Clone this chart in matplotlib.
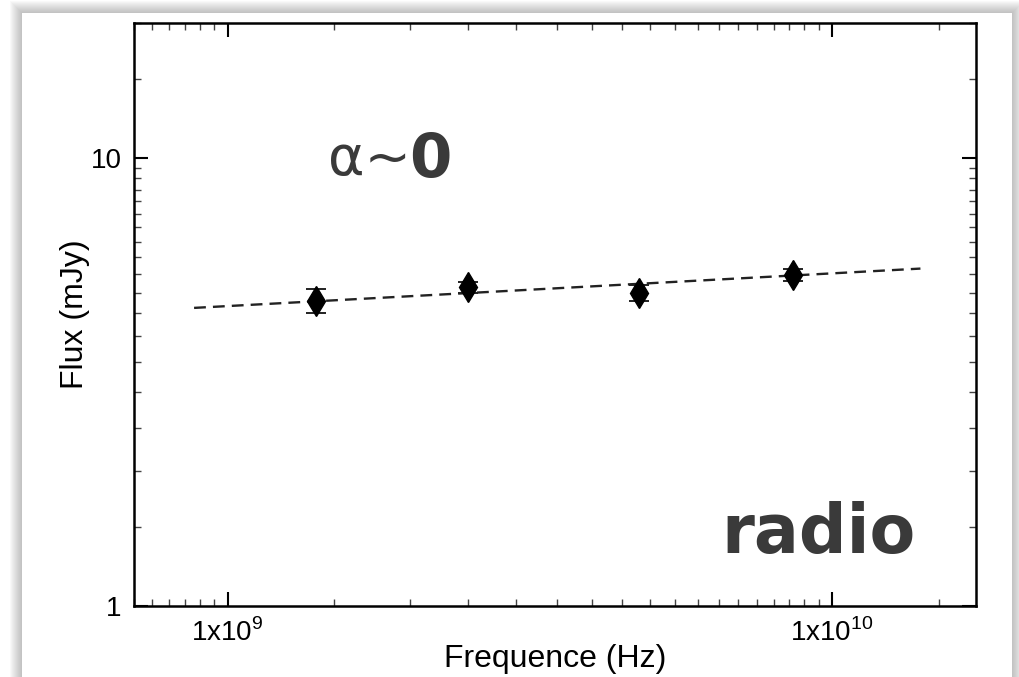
import matplotlib
matplotlib.use("Agg")
import matplotlib.pyplot as plt
import matplotlib.ticker as mticker
from matplotlib.patches import Rectangle
import numpy as np

plt.rcParams['font.family'] = ['Liberation Sans', 'DejaVu Sans']
plt.rcParams['mathtext.fontset'] = 'custom'
plt.rcParams['mathtext.rm'] = 'Liberation Sans'

# radio measurements
freq = [1.4e9, 2.5e9, 4.8e9, 8.6e9]          # Hz
flux = [4.80, 5.14, 5.00, 5.48]               # mJy
flux_err = [0.30, 0.15, 0.20, 0.17]

# power-law fit, F = amp * (nu / 1 GHz)^alpha
fit_amp = 4.67
fit_alpha = 0.073
fit_range = [8.8e8, 1.4e10]

x_ticks = [1e9, 1e10]
x_ticklabels = [r'1x10$^{9}$', r'1x10$^{10}$']
y_ticks = [1, 10]
y_ticklabels = ['1', '10']

fig = plt.figure(figsize=(10.2, 6.77), dpi=100)
fig.patch.set_facecolor('white')

# panel with soft drop shadow (pixel coords)
W, H = 1020, 677
px0, py0, px1 = 22, 13, 1012
for i in range(12, 0, -1):
    fig.patches.append(Rectangle(((px0 - i) / W, 0), (px1 - px0 + 2 * i) / W,
                                 (H - py0 + i) / H, transform=fig.transFigure,
                                 facecolor='#606060', edgecolor='none',
                                 alpha=0.035, zorder=-3))
fig.patches.append(Rectangle((px0 / W, 0), (px1 - px0) / W, (H - py0) / H,
                             transform=fig.transFigure, facecolor='white',
                             edgecolor='none', zorder=-2))

ax = fig.add_axes([134 / W, 1 - 606 / H, (976 - 134) / W, (606 - 23) / H])
ax.set_facecolor('white')
ax.set_xscale('log')
ax.set_yscale('log')
ax.set_xlim(7e8, 1.73e10)
ax.set_ylim(1, 20)

nu = np.array(fit_range)
ax.plot(nu, fit_amp * (nu / 1e9) ** fit_alpha, ls=(0, (5, 3)), color='#222222', lw=1.7)

ax.errorbar(freq, flux, yerr=flux_err, fmt='d', color='black', ms=15,
            ecolor='#222222', elinewidth=1.3, capsize=7, capthick=1.4)

ax.set_xticks(x_ticks)
ax.set_xticklabels(x_ticklabels)
ax.set_yticks(y_ticks)
ax.set_yticklabels(y_ticklabels)
minor_subs = np.arange(1.5, 10, 0.5)
ax.xaxis.set_minor_locator(mticker.LogLocator(base=10, subs=minor_subs, numticks=50))
ax.yaxis.set_minor_locator(mticker.LogLocator(base=10, subs=minor_subs, numticks=50))
ax.xaxis.set_minor_formatter(mticker.NullFormatter())
ax.yaxis.set_minor_formatter(mticker.NullFormatter())

ax.tick_params(which='both', direction='in', top=True, right=True, labelsize=20, pad=9)
ax.tick_params(which='major', length=10, width=1.5)
ax.tick_params(which='minor', length=5, width=1.0, color='#444444')
for s in ax.spines.values():
    s.set_linewidth(1.8)

ax.set_xlabel('Frequence (Hz)', fontsize=23, labelpad=-2)
ax.set_ylabel('Flux (mJy)', fontsize=23, labelpad=0)

ax.text(0.23, 0.765, 'α~', transform=ax.transAxes, fontsize=40,
        color='#3a3a3a', family='DejaVu Sans', va='center')
ax.text(0.327, 0.765, '0', transform=ax.transAxes, fontsize=44,
        color='#3a3a3a', family='DejaVu Sans', fontweight='bold', va='center')
ax.text(0.698, 0.124, 'radio', transform=ax.transAxes, fontsize=48,
        color='#3a3a3a', family='DejaVu Sans', fontweight='bold', va='center')

fig.savefig('out.png', dpi=100)
